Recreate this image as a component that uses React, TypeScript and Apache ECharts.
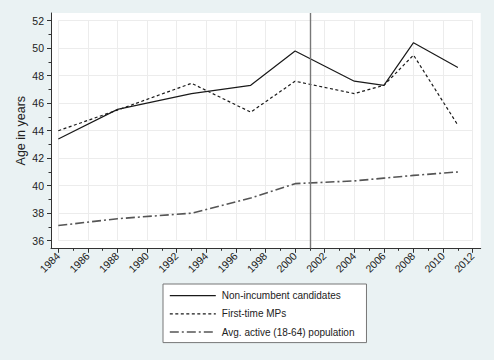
import React, { useEffect, useRef } from "react";
import * as echarts from "echarts";

const years = [1984, 1988, 1993, 1997, 2000, 2004, 2006, 2008, 2011];
const nonIncumbent = [43.4, 45.55, 46.7, 47.3, 49.8, 47.6, 47.3, 50.4, 48.6];
const firstTimeMPs = [44.0, 45.5, 47.45, 45.35, 47.6, 46.7, 47.3, 49.5, 44.4];
const activePopulation = [37.1, 37.6, 38.0, 39.1, 40.15, 40.35, 40.55, 40.75, 41.0];
const referenceYear = 2001;
const seriesNames = ["Non-incumbent candidates", "First-time MPs", "Avg. active (18-64) population"];

const FONT = "'Liberation Sans', Arial, sans-serif";

export default function App() {
  const ref = useRef<HTMLDivElement>(null);
  useEffect(() => {
    if (!ref.current) return;
    const chart = echarts.init(ref.current, undefined, { renderer: "svg" });
    const pair = (vals: number[]) => years.map((y, i) => [y, vals[i]]);
    chart.setOption({
      animation: false,
      backgroundColor: "#eaf2f3",
      textStyle: { fontFamily: FONT },
      grid: [
        { left: 58.3, right: 21.3, top: 20.7, bottom: 119.3 },
        { left: 51, right: 13.3, top: 13, bottom: 111.7, show: true, backgroundColor: "#ffffff", borderWidth: 0, z: -1 },
      ],
      xAxis: [
        {
          gridIndex: 0, type: "value", min: 1984, max: 2012, interval: 2, offset: 7.6,
          axisLine: { show: false },
          axisTick: { show: true, length: 4.5, lineStyle: { color: "#333", width: 1 } },
          minorTick: { show: true, splitNumber: 2, length: 2.5, lineStyle: { color: "#333", width: 1 } },
          axisLabel: { rotate: 45, fontSize: 10.5, color: "#222", margin: 6, fontFamily: FONT, formatter: (v: number) => String(v) },
          splitLine: { show: true, lineStyle: { color: "#ececec", width: 1 } },
        },
        {
          gridIndex: 1, type: "value", min: 1983.507, max: 2012.54,
          axisLine: { show: true, lineStyle: { color: "#333", width: 1 } },
          axisTick: { show: false }, axisLabel: { show: false }, splitLine: { show: false },
        },
      ],
      yAxis: [
        {
          gridIndex: 0, type: "value", min: 36, max: 52, interval: 2, offset: 7.3,
          name: "Age in years", nameLocation: "middle", nameGap: 24, nameMoveOverlap: false,
          nameTextStyle: { fontSize: 12.5, color: "#222", fontFamily: FONT },
          axisLine: { show: false },
          axisTick: { show: true, length: 4, lineStyle: { color: "#333", width: 1 } },
          minorTick: { show: true, splitNumber: 2, length: 2.5, lineStyle: { color: "#333", width: 1 } },
          axisLabel: { fontSize: 10.5, color: "#222", margin: 7, fontFamily: FONT },
          splitLine: { show: true, lineStyle: { color: "#ececec", width: 1 } },
        },
        {
          gridIndex: 1, type: "value", min: 35.447, max: 52.56,
          axisLine: { show: true, lineStyle: { color: "#333", width: 1 } },
          axisTick: { show: false }, axisLabel: { show: false }, splitLine: { show: false },
        },
      ],
      legend: {
        orient: "vertical", left: 163, top: 284,
        backgroundColor: "#ffffff", borderColor: "#777", borderWidth: 1, borderRadius: 0,
        padding: [6, 12, 5, 6],
        itemWidth: 46, itemHeight: 14, itemGap: 7,
        itemStyle: { opacity: 0 },
        textStyle: { fontSize: 10, color: "#222", fontFamily: FONT, padding: [0, 0, 0, 1] },
        data: [
          { name: seriesNames[0], lineStyle: { width: 1.2, type: "solid", color: "#1a1a1a" } },
          { name: seriesNames[1], lineStyle: { width: 1.2, type: [3, 2.5], color: "#1a1a1a" } },
          { name: seriesNames[2], lineStyle: { width: 1.6, type: [9, 3, 2, 3], color: "#555" } },
        ],
      },
      series: [
        {
          name: seriesNames[0], type: "line", xAxisIndex: 0, yAxisIndex: 0, data: pair(nonIncumbent),
          symbol: "none", color: "#1a1a1a", lineStyle: { color: "#1a1a1a", width: 1.2, type: "solid" },
        },
        {
          name: seriesNames[1], type: "line", xAxisIndex: 0, yAxisIndex: 0, data: pair(firstTimeMPs),
          symbol: "none", color: "#1a1a1a", lineStyle: { color: "#1a1a1a", width: 1.2, type: [3, 2.5] },
        },
        {
          name: seriesNames[2], type: "line", xAxisIndex: 0, yAxisIndex: 0, data: pair(activePopulation),
          symbol: "none", color: "#555", lineStyle: { color: "#555", width: 1.6, type: [9, 3, 2, 3] },
        },
        {
          type: "line", xAxisIndex: 1, yAxisIndex: 1, data: [], symbol: "none",
          markLine: {
            silent: true, symbol: ["none", "none"], label: { show: false },
            lineStyle: { color: "#777", width: 1.4, type: "solid" },
            data: [{ xAxis: referenceYear }],
          },
        },
      ],
    });
    return () => chart.dispose();
  }, []);
  return <div ref={ref} style={{ position: "fixed", left: 0, top: 0, width: 494, height: 360 }} />;
}
